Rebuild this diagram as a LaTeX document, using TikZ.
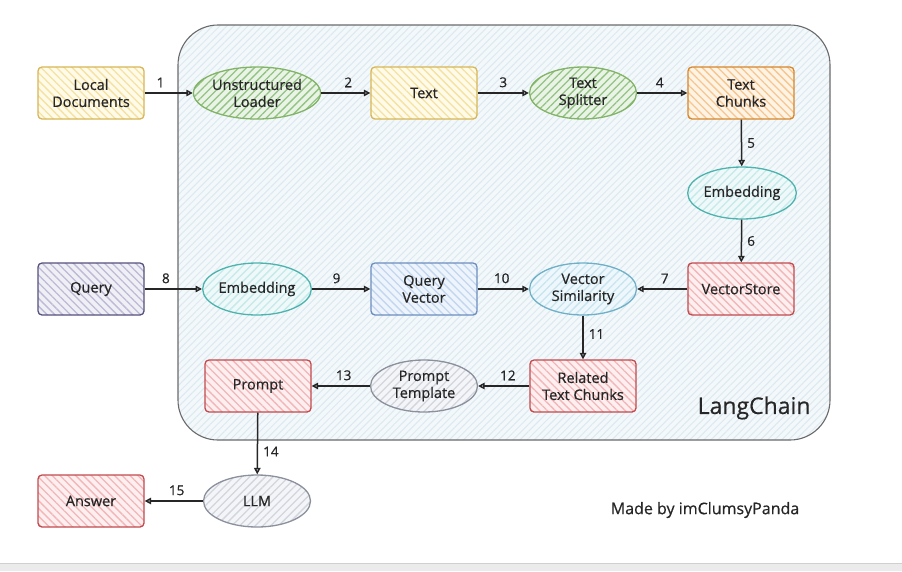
\documentclass[tikz,border=0pt]{standalone}
\usepackage{fontspec}
\setmainfont{Open Sans}[FakeBold=0.6]
\usetikzlibrary{shapes.geometric,arrows.meta,patterns.meta}
\definecolor{ink}{HTML}{262626}
\definecolor{stripF}{HTML}{EBEBEB}\definecolor{stripD}{HTML}{D0D0D0}
\definecolor{yelF}{HTML}{FFFBE8}\definecolor{yelH}{HTML}{F3E2A2}\definecolor{yelD}{HTML}{D6B656}
\definecolor{grnF}{HTML}{EAF4E6}\definecolor{grnH}{HTML}{92C383}\definecolor{grnD}{HTML}{82B366}
\definecolor{orgF}{HTML}{FFF3E4}\definecolor{orgH}{HTML}{F6C690}\definecolor{orgD}{HTML}{D7862A}
\definecolor{tealF}{HTML}{EFF9F9}\definecolor{tealH}{HTML}{C6E9EA}\definecolor{tealD}{HTML}{4DB3AE}
\definecolor{redF}{HTML}{FDEFEF}\definecolor{redH}{HTML}{F2B6B8}\definecolor{redD}{HTML}{C24A4E}
\definecolor{purF}{HTML}{EFEFF5}\definecolor{purH}{HTML}{BCBAD5}\definecolor{purD}{HTML}{56517E}
\definecolor{bluF}{HTML}{EEF4FB}\definecolor{bluH}{HTML}{C3D6EF}\definecolor{bluD}{HTML}{6C8EBF}
\definecolor{vsF}{HTML}{EEF7FB}\definecolor{vsH}{HTML}{C8E4EF}\definecolor{vsD}{HTML}{6FB0C8}
\definecolor{gryF}{HTML}{F4F5F8}\definecolor{gryH}{HTML}{D2D5DC}\definecolor{gryD}{HTML}{8A909C}
\definecolor{lcF}{HTML}{F3F8FB}\definecolor{lcH}{HTML}{DDE9F0}\definecolor{lcD}{HTML}{6A6A6A}
\begin{document}
\begin{tikzpicture}[x=1pt,y=-1pt,
  base/.style={line width=1.3pt, align=center, text=ink, font=\fontsize{14.5}{17}\selectfont, inner sep=2pt},
  boxn/.style={base, rectangle, rounded corners=4pt, minimum width=106pt, minimum height=52pt},
  elln/.style={base, ellipse, minimum width=107pt, minimum height=52pt, inner sep=0pt},
  hatchbox/.style n args={3}{preaction={fill=#1}, pattern={Lines[angle=-45,distance=5.5pt,line width=1.3pt]}, pattern color=#2, draw=#3},
  hatchell/.style n args={3}{preaction={fill=#1}, pattern={Lines[angle=45,distance=5.5pt,line width=1.3pt]}, pattern color=#2, draw=#3},
  conn/.style={draw=ink, line width=1.5pt, -{Triangle[open,length=6.5pt,width=6.5pt]}},
  lbl/.style={text=ink, font=\fontsize{13.5}{15}\selectfont, inner sep=2pt},
  lblA/.style={lbl, above=3pt},
  lblR/.style={lbl, right=3pt}
]
\useasboundingbox (0,0) rectangle (902,571);
\fill[white] (0,0) rectangle (902,571);
\fill[stripF] (0,563) rectangle (902,571);
\draw[line width=0.6pt, stripD] (0,563) -- (902,563);
% container
\node[draw=lcD, line width=1.1pt, rounded corners=40pt, preaction={fill=lcF},
  pattern={Lines[angle=45,distance=5pt,line width=1pt]}, pattern color=lcH,
  minimum width=652pt, minimum height=415pt, inner sep=0pt] (lc) at (504,232.5) {};
\node[text=ink, font=\fontsize{23}{25}\selectfont, anchor=east] (lctitle) at (814,408) {LangChain};
% nodes
\node[boxn, hatchbox={yelF}{yelH}{yelD}] (ld) at (91,93) {Local\\Documents};
\node[elln, hatchell={grnF}{grnH}{grnD}] (ul) at (257,93) {Unstructured\\Loader};
\node[boxn, hatchbox={yelF}{yelH}{yelD}] (tx) at (424,93) {Text};
\node[elln, hatchell={grnF}{grnH}{grnD}] (ts) at (583,93) {Text\\Splitter};
\node[boxn, hatchbox={orgF}{orgH}{orgD}] (tc) at (741,93) {Text\\Chunks};
\node[elln, hatchell={tealF}{tealH}{tealD}] (em1) at (742,193) {Embedding};
\node[boxn, hatchbox={redF}{redH}{redD}] (vs) at (741,289) {VectorStore};
\node[elln, hatchell={vsF}{vsH}{vsD}] (sim) at (583,289) {Vector\\Similarity};
\node[boxn, hatchbox={bluF}{bluH}{bluD}] (qv) at (424,289) {Query\\Vector};
\node[elln, hatchell={tealF}{tealH}{tealD}] (em2) at (257,289) {Embedding};
\node[boxn, hatchbox={purF}{purH}{purD}] (q) at (91,289) {Query};
\node[boxn, hatchbox={redF}{redH}{redD}] (rtc) at (583,386) {Related\\Text Chunks};
\node[elln, hatchell={gryF}{gryH}{gryD}] (pt) at (424,386) {Prompt\\Template};
\node[boxn, hatchbox={redF}{redH}{redD}] (pr) at (258,386) {Prompt};
\node[elln, hatchell={gryF}{gryH}{gryD}] (llm) at (257,501) {LLM};
\node[boxn, hatchbox={redF}{redH}{redD}] (ans) at (91,501) {Answer};
\node[text=ink, font=\fontsize{16}{18}\selectfont] (credit) at (705,510) {Made by imClumsyPanda};
% connectors
\draw[conn] (ld) -- node[lblA, pos=0.33] {1} (ul);
\draw[conn] (ul) -- node[lblA, pos=0.55] {2} (tx);
\draw[conn] (tx) -- node[lblA, pos=0.5] {3} (ts);
\draw[conn] (ts) -- node[lblA, pos=0.45] {4} (tc);
\draw[conn] (tc) -- node[lblR, pos=0.5] {5} (em1);
\draw[conn] (em1) -- node[lblR, pos=0.5] {6} (vs);
\draw[conn] (vs) -- node[lblA, pos=0.45] {7} (sim);
\draw[conn] (q) -- node[lblA, pos=0.37] {8} (em2);
\draw[conn] (em2) -- node[lblA, pos=0.42] {9} (qv);
\draw[conn] (qv) -- node[lblA, pos=0.47] {10} (sim);
\draw[conn] (sim) -- node[lblR, pos=0.42] {11} (rtc);
\draw[conn] (rtc) -- node[lblA, pos=0.42] {12} (pt);
\draw[conn] (pt) -- node[lblA, pos=0.45] {13} (pr);
\draw[conn] (pr) -- node[lblR, pos=0.63] {14} (llm);
\draw[conn] (llm) -- node[lblA, pos=0.45] {15} (ans);
\end{tikzpicture}
\end{document}
